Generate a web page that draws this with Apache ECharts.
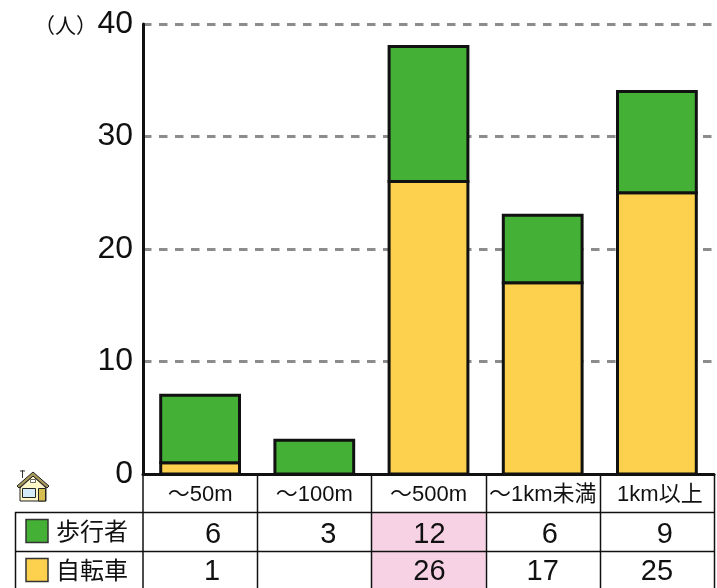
<!DOCTYPE html>
<html><head><meta charset="utf-8">
<style>html,body{margin:0;padding:0;background:#fff}#c{width:717px;height:588px}</style>
<script src="https://cdn.jsdelivr.net/npm/echarts@6/dist/echarts.min.js"></script>
</head><body><div id="c"></div>
<script>
const categories = ['〜50m','〜100m','〜500m','〜1km未満','1km以上'];
const walkers = [6,3,12,6,9];
const bicycles = [1,null,26,17,25];
const yTicks = [0,10,20,30,40];
const unitLabel = '（人）';
const rowNames = ['歩行者','自転車'];
const highlightColumn = 2;
const categoryNudge = [0,0,0,0,6];
const walkerNudge = [26,28,2,14,16];
const bicycleNudge = [24,0,2,0,0];

const GREEN='#44b035', YELLOW='#fdd14d', PINK='#f7d2e4', INK='#111';
const FONT='"Liberation Sans","Noto Sans CJK JP",sans-serif';
const L=143, R=714, T=24, B=474, ROW=[474,512,551,588], TL=15;
const colW=(R-L)/categories.length;

const chart=echarts.init(document.getElementById('c'),null,{renderer:'canvas'});
const cell=(v,n)=>({value:v==null?'':String(v),textStyle:{padding:[0,0,0,n]}});
function line(x1,y1,x2,y2,w,c){return {type:'line',silent:true,z:4,shape:{x1,y1,x2,y2},style:{stroke:c||INK,lineWidth:w}};}
const g=[];
g.push({type:'rect',silent:true,z:-1,shape:{x:L+highlightColumn*colW,y:ROW[1],width:colW,height:ROW[3]-ROW[1]},style:{fill:PINK}});
[ROW[1],ROW[2]].forEach(y=>g.push(line(TL,y+.5,R,y+.5,1.5)));
g.push(line(TL+.5,ROW[1],TL+.5,588,1.5));
for(let i=1;i<=categories.length;i++){const x=Math.round(L+i*colW)+.5;g.push(line(x,B,x,588,1.5));}
g.push(line(L,B,L,588,1.5));
[[GREEN,ROW[1]],[YELLOW,ROW[2]]].forEach(([c,y],i)=>{
 g.push({type:'rect',silent:true,z:6,shape:{x:26,y:y+7.5,width:22,height:23},style:{fill:c,stroke:'#333',lineWidth:1.5}});
 g.push({type:'text',silent:true,z:6,style:{x:56,y:y+19,text:rowNames[i],font:'24px "Noto Sans CJK JP"',fill:INK,textVerticalAlign:'middle'}});
});
g.push({type:'text',silent:true,z:6,style:{x:34,y:25,text:unitLabel,font:'21px "Noto Sans CJK JP"',fill:INK,textVerticalAlign:'middle'}});
// house icon
g.push({type:'polygon',silent:true,z:6,shape:{points:[[20,488],[33,476],[46,488],[46,501],[20,501]]},style:{fill:'#fdf6c8',stroke:'#222',lineWidth:1}});
g.push({type:'polygon',silent:true,z:7,shape:{points:[[17,486],[33,472],[49,486],[47,488],[33,476],[19,488]]},style:{fill:'#a8985c',stroke:'#222',lineWidth:1}});
g.push({type:'rect',silent:true,z:7,shape:{x:22.5,y:488.5,width:13,height:9},style:{fill:'#d4ebfa',stroke:'#222',lineWidth:1}});
g.push(line(29,488.5,29,497.5,1,'#222'));
g.push({type:'rect',silent:true,z:7,shape:{x:38.5,y:488.5,width:7,height:12.5},style:{fill:'#d6bd50',stroke:'#222',lineWidth:1}});
g.push({type:'rect',silent:true,z:7,shape:{x:30.5,y:479.5,width:5,height:3},style:{fill:'#fff',stroke:'#444',lineWidth:.8}});
g.push(line(22.5,470,22.5,478,1,'#333'));
g.push(line(20,471,25,471,1,'#333'));

function stackSeries(name,color,base,vals){
 return {type:'custom',name,xAxisIndex:0,yAxisIndex:0,z:3,
  encode:{x:0,y:[1,2]},
  data:vals.map((v,i)=>[i,base[i]||0,(base[i]||0)+(v||0)]),
  renderItem(params,api){
   const a=api.value(1),b=api.value(2);
   if(a===b) return null;
   const lo=api.coord([api.value(0),a]),hi=api.coord([api.value(0),b]);
   const w=api.size([1,0])[0]*0.69;
   return {type:'rect',shape:{x:lo[0]-w/2,y:hi[1],width:w,height:lo[1]-hi[1]},
     style:{fill:color,stroke:INK,lineWidth:3}};
  }};
}

chart.setOption({
 animation:false,
 textStyle:{fontFamily:FONT},
 grid:[{left:L,right:717-R,top:T,bottom:588-B,containLabel:false}],
 xAxis:[
  {type:'category',data:categories.map((c,i)=>({value:c,textStyle:{padding:[0,0,0,categoryNudge[i]]}})),position:'bottom',axisLine:{show:true,lineStyle:{color:INK,width:3}},axisTick:{show:false},
   axisLabel:{color:INK,fontSize:22,margin:10,interval:0,fontFamily:FONT},z:5},
  {type:'category',data:walkers.map((v,i)=>cell(v,walkerNudge[i])),position:'bottom',offset:38,axisLine:{show:false},axisTick:{show:false},
   axisLabel:{color:INK,fontSize:29,margin:8,interval:0,fontFamily:FONT},z:5},
  {type:'category',data:bicycles.map((v,i)=>cell(v,bicycleNudge[i])),position:'bottom',offset:77,axisLine:{show:false},axisTick:{show:false},
   axisLabel:{color:INK,fontSize:29,margin:6,interval:0,fontFamily:FONT},z:5}
 ],
 yAxis:[
  {type:'value',min:0,max:40,interval:10,
   axisLine:{show:true,onZero:false,lineStyle:{color:INK,width:3}},axisTick:{show:false},
   splitLine:{show:true,lineStyle:{color:'#8c8c8c',width:3,type:[8.5,7.5]}},
   axisLabel:{color:INK,fontSize:32,margin:10,padding:[3,0,0,0],fontFamily:FONT,formatter:v=>yTicks.includes(v)?String(v):''}}
 ],
 series:[
  stackSeries(rowNames[1],YELLOW,[0,0,0,0,0],bicycles),
  stackSeries(rowNames[0],GREEN,bicycles,walkers)
 ],
 graphic:g
});
</script></body></html>
